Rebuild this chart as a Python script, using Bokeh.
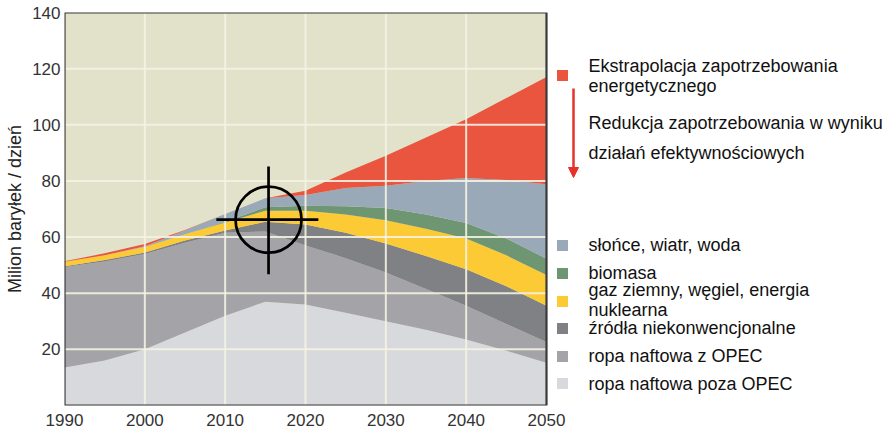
from bokeh.plotting import figure
from bokeh.models import Range1d, FixedTicker, Arrow, NormalHead, ColumnDataSource
from bokeh.core.properties import value
from bokeh.embed import file_html
from bokeh.resources import INLINE

# ---------------- data (million barrels / day, layer thickness) ----------------
years            = [1990, 1995, 2000, 2005, 2010, 2015, 2020, 2025, 2030, 2035, 2040, 2045, 2050]
non_opec         = [13.5, 16.0, 20.0, 26.0, 32.0, 37.0, 36.0, 33.0, 30.0, 27.0, 23.5, 19.5, 15.2]
opec             = [35.8, 35.3, 34.0, 32.0, 29.5, 25.0, 21.0, 19.5, 17.4, 14.5, 12.0, 9.5, 7.4]
unconventional   = [0.3, 0.5, 0.5, 0.8, 0.8, 3.5, 7.5, 9.0, 10.3, 11.8, 13.0, 13.5, 12.9]
gas_coal_nuclear = [1.6, 1.7, 2.0, 2.2, 2.9, 3.9, 4.9, 6.5, 8.3, 9.7, 11.0, 11.0, 11.0]
biomass          = [0.0, 0.0, 0.0, 0.0, 0.3, 1.2, 1.8, 3.0, 4.4, 5.0, 5.5, 6.0, 5.8]
solar_wind_water = [0.0, 0.0, 0.2, 1.3, 2.7, 3.2, 3.8, 6.5, 7.9, 12.0, 16.0, 20.8, 26.5]
extrapolation    = [0.2, 0.7, 0.8, 0.2, 0.0, 0.0, 1.5, 5.5, 10.7, 15.5, 21.0, 29.2, 38.2]

x_ticks = [1990, 2000, 2010, 2020, 2030, 2040, 2050]
y_ticks = [20, 40, 60, 80, 100, 120, 140]
x_start, x_end = 1990, 2050
y_start, y_end = 0, 140

crosshair_year = 2015.4
crosshair_value = 66.2
crosshair_years = [2008.9, 2021.6]
crosshair_values = [46.8, 85.1]

y_label = "Milion baryłek / dzień"
legend_top_labels = ["Ekstrapolacja zapotrzebowania", "energetycznego",
                     "Redukcja zapotrzebowania w wyniku", "działań efektywnościowych"]
legend_labels = ["słońce, wiatr, woda", "biomasa", "gaz ziemny, węgiel, energia\nnuklearna",
                 "źródła niekonwencjonalne", "ropa naftowa z OPEC", "ropa naftowa poza OPEC"]

# ---------------- style ----------------
C_BG = "#e2e1ca"
C_GRID = "#f4f2e3"
C_RED = "#e9553f"
C_BLUE = "#9aa9b8"
C_GREEN = "#6f9673"
C_YELLOW = "#fbca35"
C_DARK = "#808185"
C_MID = "#a3a3a8"
C_LIGHT = "#d8d9dc"
FONT = "Liberation Sans"

# ---------------- layout ----------------
W, H = 890, 434
B_LEFT, B_TOP, B_BOTTOM = 64, 12, 29
frame_w = W - B_LEFT
frame_h = H - B_TOP - B_BOTTOM
plot_w = 482  # pixel width of the chart area inside the frame
x_range_end = x_start + (x_end - x_start) * frame_w / plot_w

page_left = B_LEFT
page_top = B_TOP

p = figure(width=W, height=H, output_backend="svg", toolbar_location=None,
           x_range=Range1d(x_start, x_range_end), y_range=Range1d(y_start, y_end))
p.min_border = 0
p.min_border_left = B_LEFT
p.min_border_top = B_TOP
p.min_border_bottom = B_BOTTOM
p.min_border_right = 0
p.outline_line_color = None
p.background_fill_color = "white"
p.border_fill_color = "white"
p.xgrid.visible = False
p.ygrid.visible = False
p.extra_x_ranges = {"px": Range1d(page_left, page_left + frame_w)}
p.extra_y_ranges = {"py": Range1d(page_top + frame_h, page_top)}

# axes
for ax in (p.xaxis[0], p.yaxis[0]):
    ax.axis_line_color = None
    ax.major_tick_line_color = None
    ax.minor_tick_line_color = None
    ax.major_tick_in = 0
    ax.major_tick_out = 0
    ax.major_label_text_font = FONT
    ax.major_label_text_font_size = "17px"
    ax.major_label_text_color = "#333333"
p.xaxis.ticker = FixedTicker(ticks=x_ticks)
p.yaxis.ticker = FixedTicker(ticks=y_ticks)
p.xaxis.major_label_standoff = 8
p.yaxis.major_label_standoff = 4
p.yaxis.axis_label = y_label
p.yaxis.axis_label_text_font = FONT
p.yaxis.axis_label_text_font_size = "18px"
p.yaxis.axis_label_text_font_style = "normal"
p.yaxis.axis_label_text_color = "#222222"
p.yaxis.axis_label_standoff = 4

# chart background
p.quad(left=[x_start], right=[x_end], bottom=[y_start], top=[y_end],
       fill_color=C_BG, line_color=None)

# stacked areas
src = ColumnDataSource(dict(year=years, non_opec=non_opec, opec=opec,
                            unconventional=unconventional, gas_coal_nuclear=gas_coal_nuclear,
                            biomass=biomass, solar_wind_water=solar_wind_water,
                            extrapolation=extrapolation))
p.varea_stack(stackers=["non_opec", "opec", "unconventional", "gas_coal_nuclear",
                        "biomass", "solar_wind_water", "extrapolation"],
              x="year", color=[C_LIGHT, C_MID, C_DARK, C_YELLOW, C_GREEN, C_BLUE, C_RED],
              source=src)

# grid lines over the areas
gx = [t for t in x_ticks if x_start < t < x_end]
gy = [t for t in y_ticks if y_start < t < y_end]
p.segment(x0=gx, x1=gx, y0=[y_start] * len(gx), y1=[y_end] * len(gx),
          line_color=C_GRID, line_width=2, line_alpha=0.9)
p.segment(x0=[x_start] * len(gy), x1=[x_end] * len(gy), y0=gy, y1=gy,
          line_color=C_GRID, line_width=2, line_alpha=0.9)

# crosshair
p.segment(x0=[crosshair_years[0], crosshair_year], x1=[crosshair_years[1], crosshair_year],
          y0=[crosshair_value, crosshair_values[0]], y1=[crosshair_value, crosshair_values[1]],
          line_color="black", line_width=2.7)
p.scatter(x=[crosshair_year], y=[crosshair_value], marker="circle", size=66,
          fill_alpha=0, line_color="black", line_width=2.7)

# frame of chart area
p.quad(left=[x_start], right=[x_end], bottom=[y_start], top=[y_end],
       fill_color=None, line_color="#3a3a3a", line_width=2.2)

# ---------------- legend (page pixel coordinates) ----------------
SQ_X, TX_X = 562, 588
sq_y = [75, 245, 273, 301, 328, 356, 383]
sq_c = [C_RED, C_BLUE, C_GREEN, C_YELLOW, C_DARK, C_MID, C_LIGHT]
p.rect(x=[SQ_X] * len(sq_y), y=sq_y, width=11, height=11,
       width_units="screen", height_units="screen",
       fill_color=sq_c, line_color=None, x_range_name="px", y_range_name="py")

texts, tx, ty = [], [], []
top_y = [65, 85, 122, 152]
for s, yy in zip(legend_top_labels, top_y):
    texts.append(s); tx.append(TX_X); ty.append(yy)
lab_pos = [[244], [272], [289, 309], [327], [355], [383]]
for s, ys in zip(legend_labels, lab_pos):
    for line, yy in zip(s.split("\n"), ys):
        texts.append(line); tx.append(TX_X); ty.append(yy)
p.text(x=tx, y=ty, text=texts, text_font=value(FONT), text_font_size=value("18px"),
       text_baseline="middle", text_align="left", text_color="#111111",
       x_range_name="px", y_range_name="py")

p.add_layout(Arrow(x_start=573, y_start=88, x_end=573, y_end=177,
                   line_color="#e8302a", line_width=2.5,
                   end=NormalHead(size=10, fill_color="#e8302a", line_color="#e8302a"),
                   x_range_name="px", y_range_name="py"))

open("out.html", "w").write(file_html(p, INLINE))
